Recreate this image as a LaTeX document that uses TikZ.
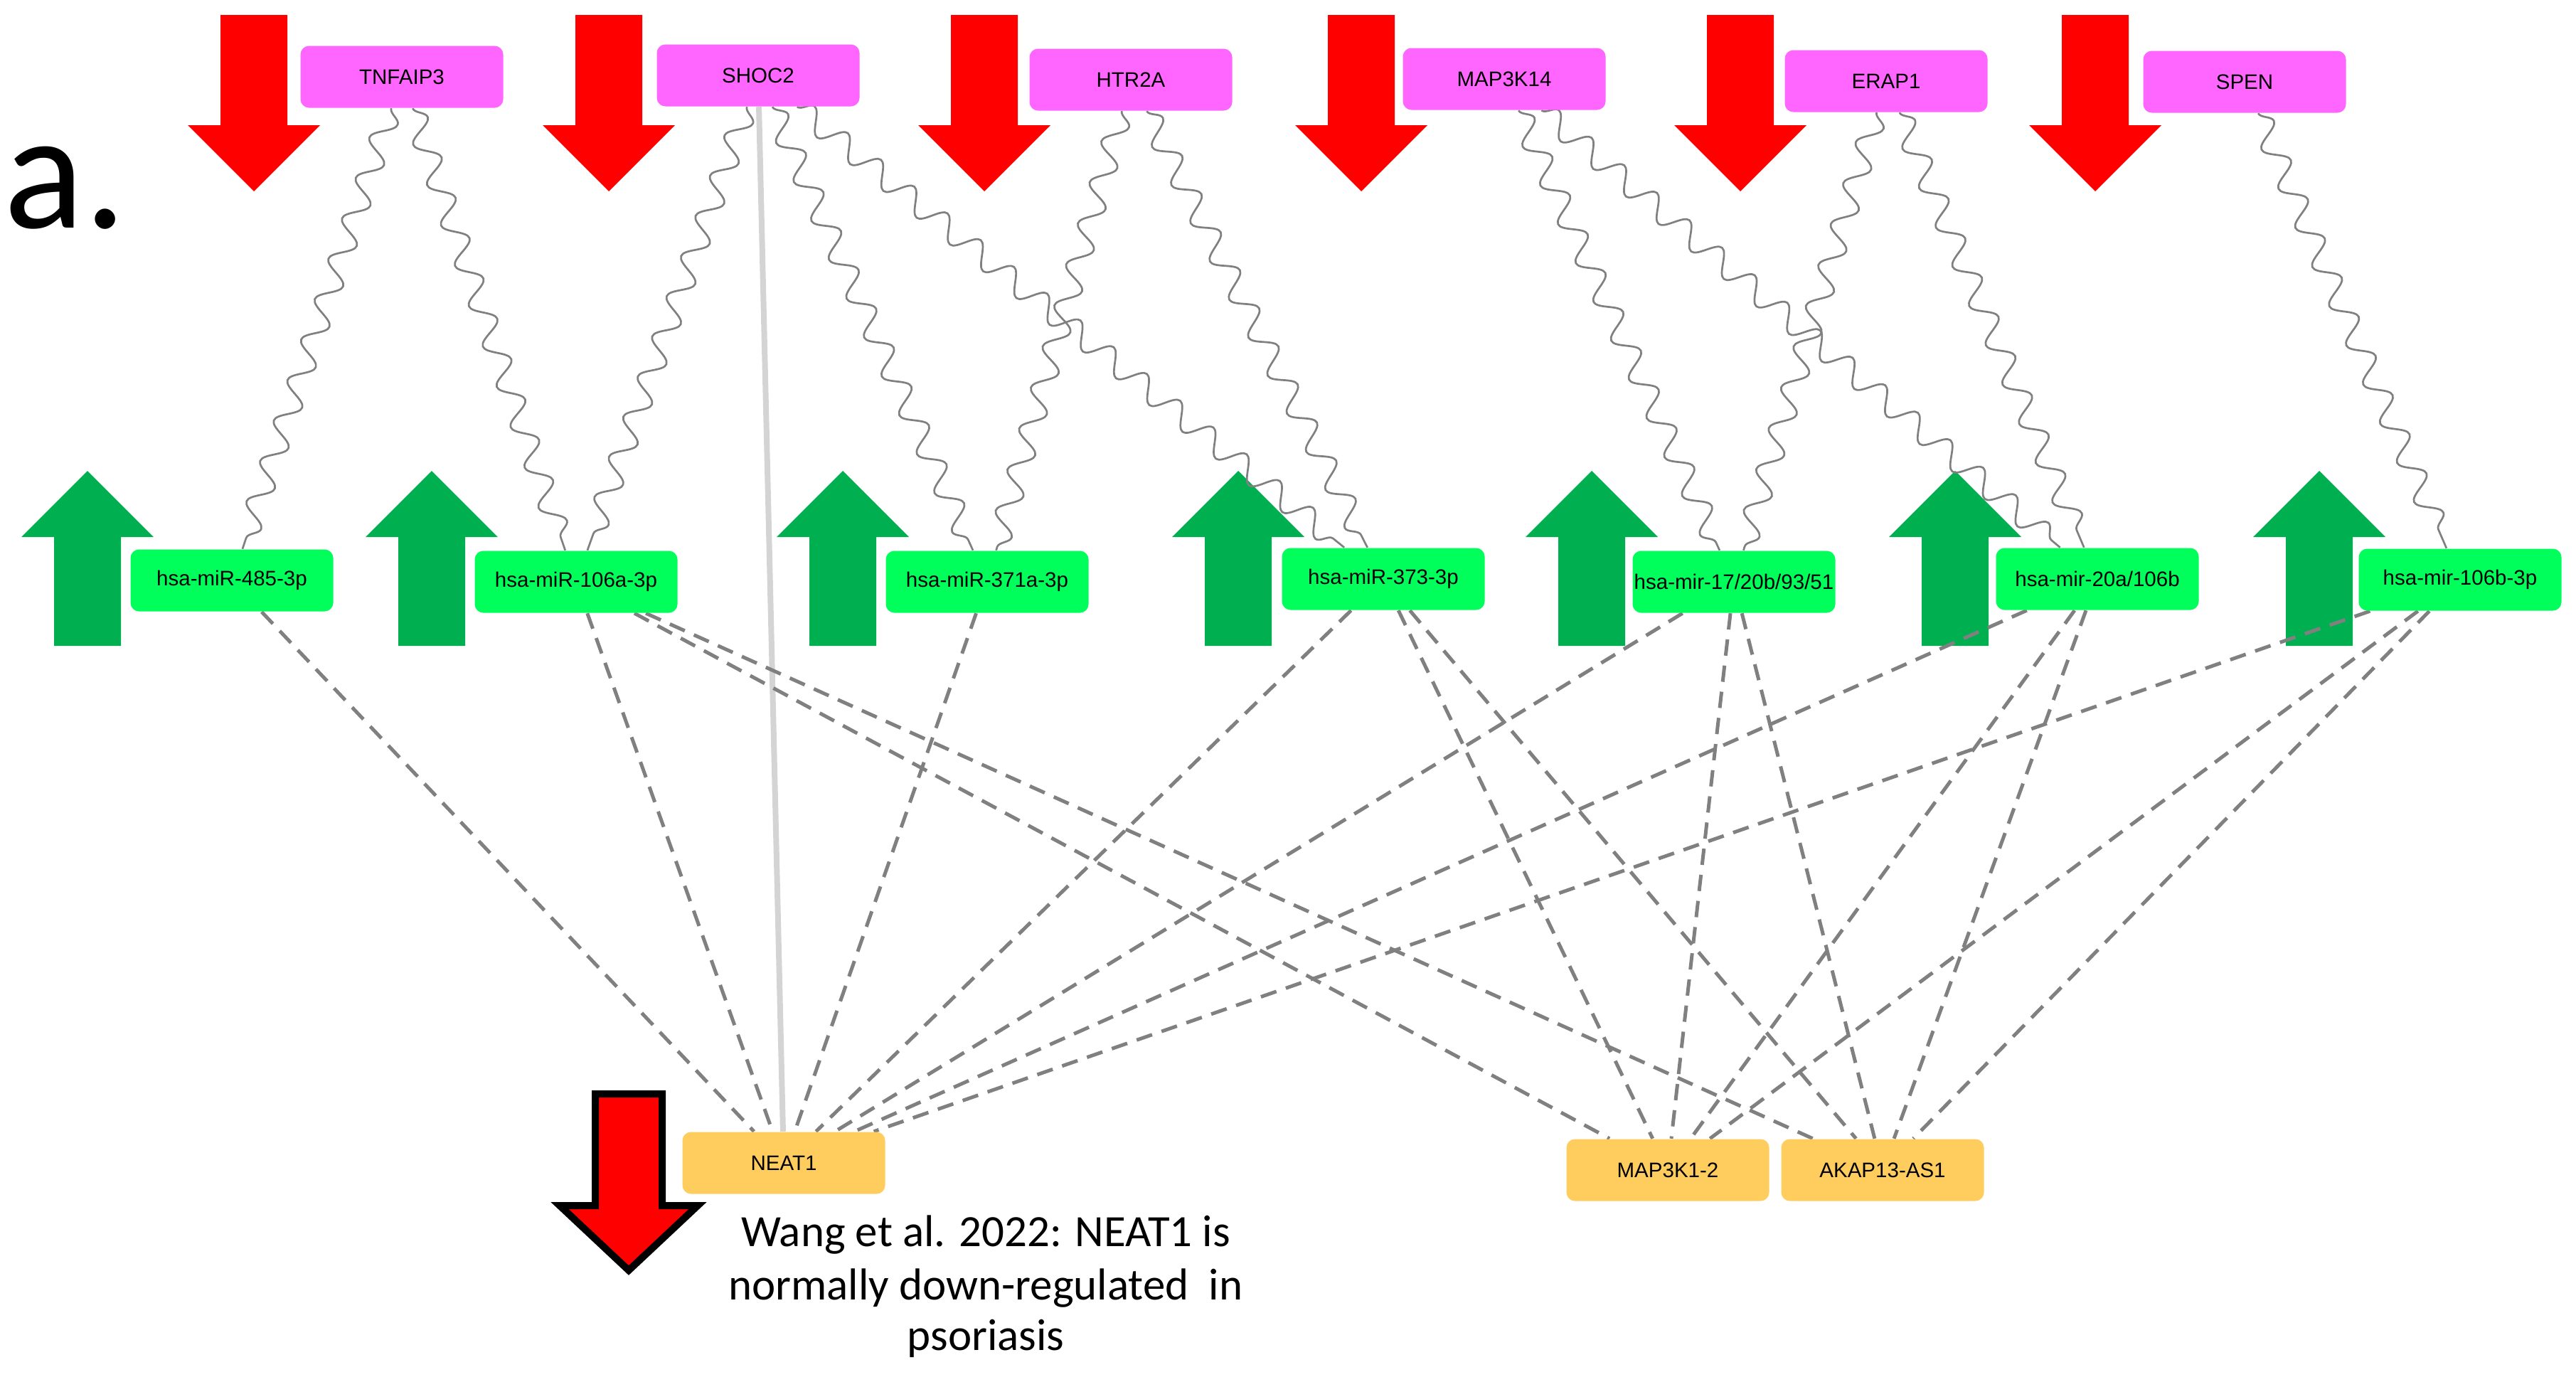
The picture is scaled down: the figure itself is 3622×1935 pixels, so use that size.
\documentclass[tikz,border=0pt]{standalone}
\usepackage{fontspec}
\setmainfont{Liberation Sans}
\newfontfamily\capfont{Carlito}
\usetikzlibrary{decorations.pathmorphing}
\definecolor{pinkbox}{RGB}{255,102,255}
\definecolor{greenbox}{RGB}{0,255,90}
\definecolor{yellowbox}{RGB}{255,204,94}
\definecolor{arrgreen}{RGB}{0,176,80}
\definecolor{arrred}{RGB}{255,0,0}
\definecolor{edgegray}{RGB}{128,128,128}
\definecolor{lightedge}{RGB}{212,212,212}
\pgfdeclarelayer{arrowlayer}
\pgfdeclarelayer{edgelayer}
\pgfsetlayers{arrowlayer,edgelayer,main}
\begin{document}
\begin{tikzpicture}[x=0.1mm,y=-0.1mm,
  box/.style={rounded corners=1.2mm, minimum width=28.5mm, minimum height=8.7mm,
    inner sep=0pt, font=\fontsize{8.4}{10}\selectfont, text=black},
  gene/.style={box, fill=pinkbox},
  mirna/.style={box, fill=greenbox},
  lnc/.style={box, fill=yellowbox},
  wavy/.style={draw=edgegray, line width=0.27mm, decorate,
    decoration={snake, amplitude=1.6mm, segment length=6mm}},
  dashedge/.style={draw=edgegray, line width=0.5mm, dash pattern=on 2.3mm off 1.4mm},
  solidedge/.style={draw=lightedge, line width=0.8mm},
  redarrow/.style={fill=arrred},
  greenarrow/.style={fill=arrgreen},
  captext/.style={font=\capfont\fontsize{17.9}{21}\selectfont, anchor=base, inner sep=0pt},
]
\useasboundingbox (0,0) rectangle (3622,1935);

% label
\node[font=\capfont\fontsize{67}{70}\selectfont, anchor=base west, inner sep=0pt] (lbl) at (5,320) {a.};

% top gene nodes
\node[gene] (tnfaip3) at (565,108) {TNFAIP3};
\node[gene] (shoc2) at (1066,106) {SHOC2};
\node[gene] (htr2a) at (1590,112) {HTR2A};
\node[gene] (map3k14) at (2115,111) {MAP3K14};
\node[gene] (erap1) at (2652,114) {ERAP1};
\node[gene] (spen) at (3156,115) {SPEN};

% miRNA nodes
\node[mirna] (m485) at (326,816) {hsa-miR-485-3p};
\node[mirna] (m106a) at (810,818) {hsa-miR-106a-3p};
\node[mirna] (m371a) at (1388,818) {hsa-miR-371a-3p};
\node[mirna] (m373) at (1945,814) {hsa-miR-373-3p};
\node[mirna] (m17) at (2438,818) {hsa-mir-17/20b/93/51};
\node[mirna] (m20a) at (2949,814) {hsa-mir-20a/106b};
\node[mirna] (m106b) at (3459,815) {hsa-mir-106b-3p};

% lncRNA nodes
\node[lnc] (neat1) at (1102,1635) {NEAT1};
\node[lnc] (map3k12) at (2345,1645) {MAP3K1-2};
\node[lnc] (akap) at (2647,1645) {AKAP13-AS1};

% caption
\node[captext] (cap1) at (1386,1752) {Wang et al. 2022: NEAT1 is};
\node[captext] (cap2) at (1386,1827) {normally down-regulated\ \ in};
\node[captext] (cap3) at (1386,1898) {psoriasis};

\begin{pgfonlayer}{arrowlayer}
  \foreach \cx in {357,856,1384,1914,2447,2946} {
    \fill[redarrow] (\cx-47,21) -- (\cx+47,21) -- (\cx+47,176) -- (\cx+93,176)
      -- (\cx,269) -- (\cx-93,176) -- (\cx-47,176) -- cycle;
  }
  \foreach \cx in {123,607,1185,1741,2238,2749,3261} {
    \fill[greenarrow] (\cx-47,908) -- (\cx+47,908) -- (\cx+47,755) -- (\cx+93,755)
      -- (\cx,662) -- (\cx-93,755) -- (\cx-47,755) -- cycle;
  }
  \draw[black, line width=1mm, fill=arrred, miter limit=10]
    (884-47,1538) -- (884+47,1538) -- (884+47,1695) -- (884+97,1695)
    -- (884,1786) -- (884-97,1695) -- (884-47,1695) -- cycle;
\end{pgfonlayer}

\begin{pgfonlayer}{edgelayer}
  % wavy gene--miRNA edges
  \draw[wavy] (tnfaip3) -- (m485);
  \draw[wavy] (tnfaip3) -- (m106a);
  \draw[wavy] (shoc2) -- (m106a);
  \draw[wavy] (shoc2) -- (m371a);
  \draw[wavy] (shoc2) -- (m373);
  \draw[wavy] (htr2a) -- (m371a);
  \draw[wavy] (htr2a) -- (m373);
  \draw[wavy] (map3k14) -- (m17);
  \draw[wavy] (map3k14) -- (m20a);
  \draw[wavy] (erap1) -- (m17);
  \draw[wavy] (erap1) -- (m20a);
  \draw[wavy] (spen) -- (m106b);
  % solid gene--lncRNA edge
  \draw[solidedge] (shoc2) -- (neat1);
  % dashed miRNA--lncRNA edges
  \draw[dashedge] (m485) -- (neat1);
  \draw[dashedge] (m106a) -- (neat1);
  \draw[dashedge] (m106a) -- (map3k12);
  \draw[dashedge] (m106a) -- (akap);
  \draw[dashedge] (m371a) -- (neat1);
  \draw[dashedge] (m373) -- (neat1);
  \draw[dashedge] (m373) -- (map3k12);
  \draw[dashedge] (m373) -- (akap);
  \draw[dashedge] (m17) -- (neat1);
  \draw[dashedge] (m17) -- (map3k12);
  \draw[dashedge] (m17) -- (akap);
  \draw[dashedge] (m20a) -- (neat1);
  \draw[dashedge] (m20a) -- (map3k12);
  \draw[dashedge] (m20a) -- (akap);
  \draw[dashedge] (m106b) -- (neat1);
  \draw[dashedge] (m106b) -- (map3k12);
  \draw[dashedge] (m106b) -- (akap);
\end{pgfonlayer}
\end{tikzpicture}
\end{document}
